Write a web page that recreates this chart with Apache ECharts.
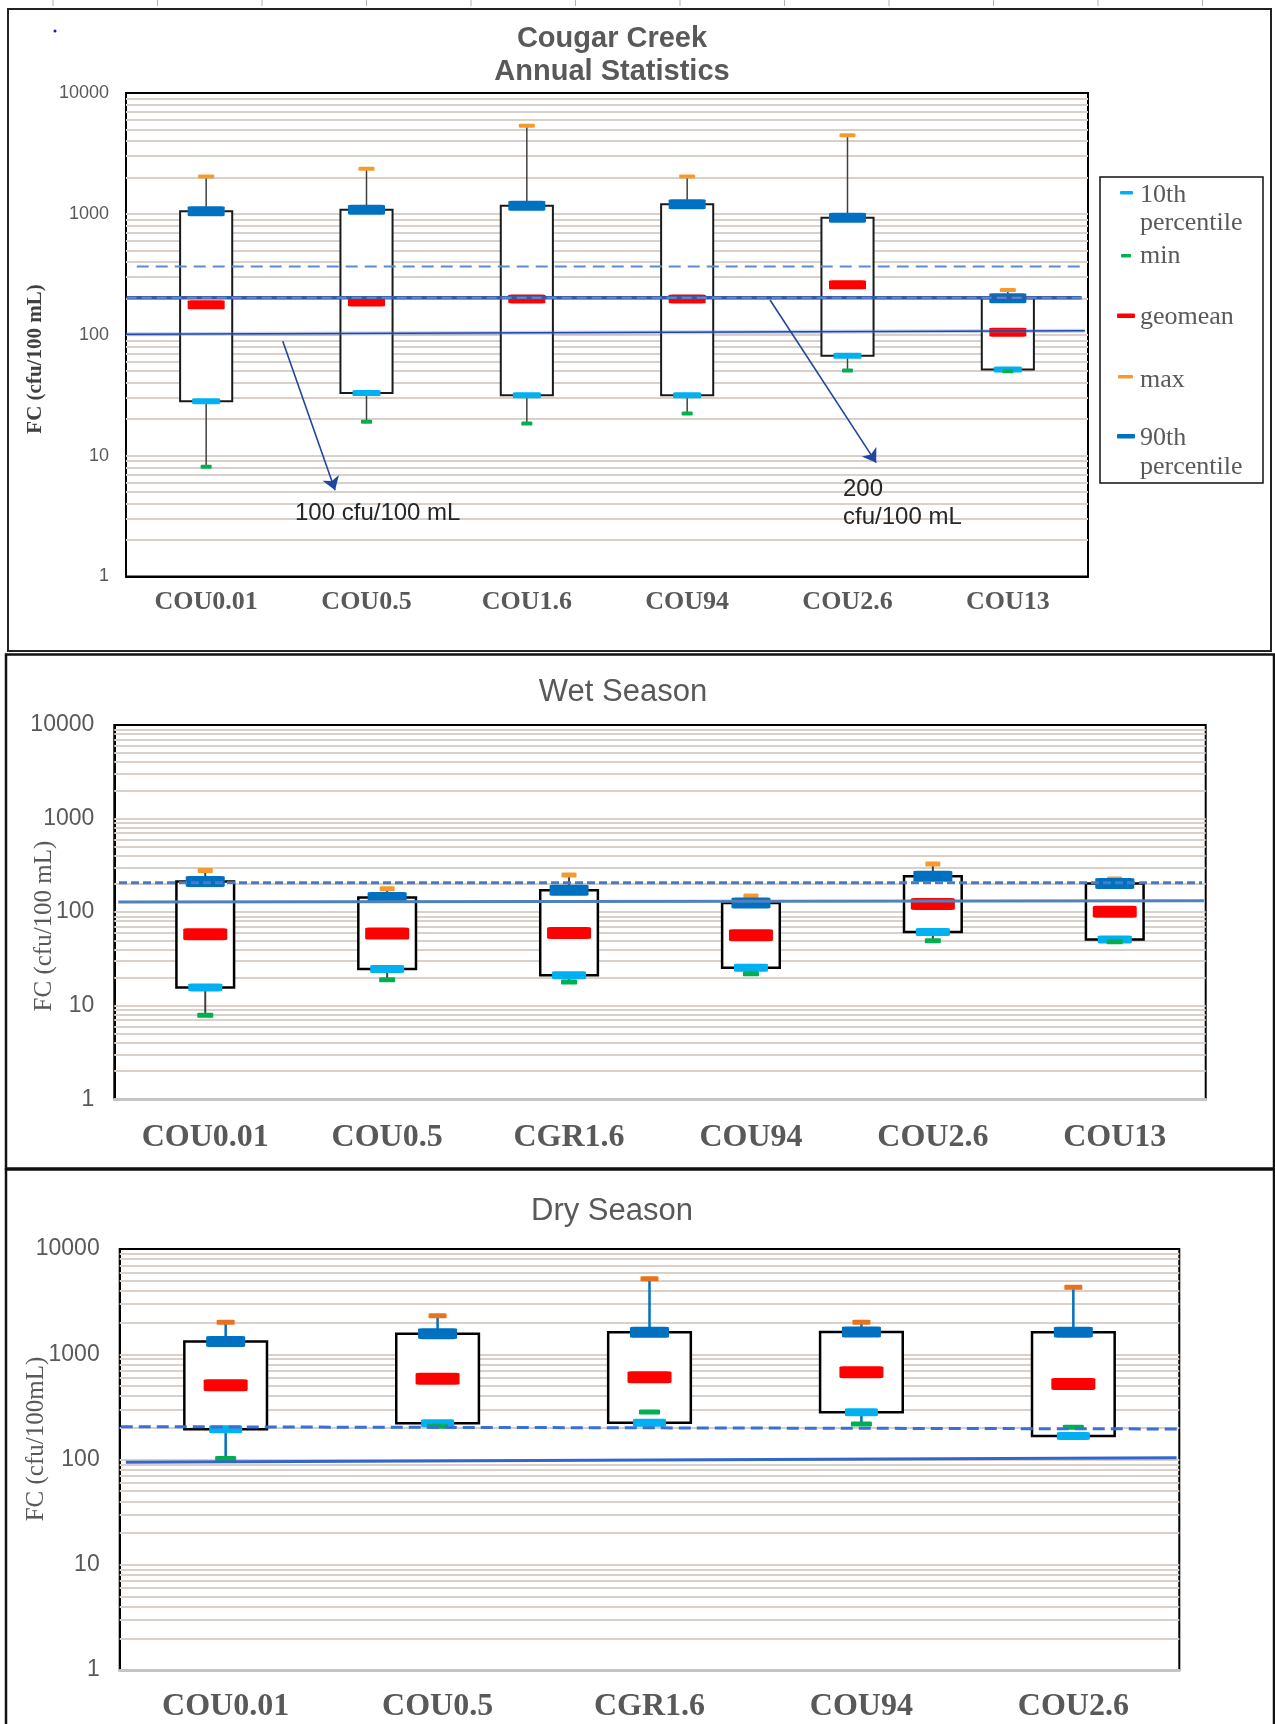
<!DOCTYPE html>
<html><head><meta charset="utf-8">
<script src="https://cdn.jsdelivr.net/npm/echarts@6/dist/echarts.min.js"></script>
<style>html,body{margin:0;padding:0;background:#fff}#c{width:1275px;height:1724px}</style>
</head><body><div id="c"></div>
<script>
// ---------- DATA ----------
const annualCategories = ['COU0.01', 'COU0.5', 'COU1.6', 'COU94', 'COU2.6', 'COU13'];
const annualMax     = [2040, 2360, 5370, 2040, 4470, 234];
const annualP90     = [1050, 1080, 1170, 1200, 930, 200];
const annualGeomean = [177, 187, 198, 198, 259, 105];
const annualP10     = [28.2, 32.9, 31.6, 31.6, 67, 51.6];
const annualMin     = [8.1, 19.1, 18.4, 22.3, 50.6, 50];
const annualLimit100 = [101, 108];
const annualLimit200 = [202, 202];
const annualUpperDashed = [367, 367];

const wetCategories = ['COU0.01', 'COU0.5', 'CGR1.6', 'COU94', 'COU2.6', 'COU13'];
const wetMax     = [278, 178, 250, 149, 327, 226];
const wetP90     = [212, 143, 171, 125, 242, 202];
const wetGeomean = [58, 59, 60, 56.6, 122, 101];
const wetP10     = [15.7, 24.7, 21.2, 25.5, 61.4, 51];
const wetMin     = [7.9, 18.9, 17.9, 21.9, 49.6, 48.4];
const wetSolid  = [128, 132];
const wetDashed = [206, 206];

const dryCategories = ['COU0.01', 'COU0.5', 'CGR1.6', 'COU94', 'COU2.6'];
const dryMax     = [2010, 2326, 5220, 2010, 4325];
const dryP90     = [1320, 1570, 1616, 1627, 1620];
const dryGeomean = [507, 586, 604, 674, 522];
const dryP10     = [194, 221, 224, 281, 167];
const dryMin     = [102, 207, 283, 217, 202];
const drySolid  = [94, 104];
const dryDashed = [205, 195];

const yTickLabels = ['1', '10', '100', '1000', '10000'];

// ---------- STYLE / LAYOUT ----------
const SANS = 'Liberation Sans', SERIF = 'Liberation Serif', GREY = '#595959';
const C = {p90: '#0070C0', geo: '#FF0000', p10: '#00B0F0', min: '#00B050'};

const panels = [
  {cats: annualCategories, mn: annualMin, p10: annualP10, geo: annualGeomean, p90: annualP90, mx: annualMax,
   grid: {left: 126, top: 93, width: 962, height: 483.5},
   boxRatio: 0.325, boxColor: '#1a1a1a', boxWidth: 2, whiskerColor: '#404040', whiskerWidth: 1.5,
   maxColor: '#F79A2E',
   sz: {p90: [37, 10], geo: [37, 9], p10: [28, 6], min: [11, 4], max: [16, 4]},
   xFont: 26, xMargin: 12.5, yFont: 18, yMargin: 17, bottomColor: '#000', gridColor: '#D8D0C9'},
  {cats: wetCategories, mn: wetMin, p10: wetP10, geo: wetGeomean, p90: wetP90, mx: wetMax,
   grid: {left: 114.3, top: 725, width: 1091.4, height: 374.3},
   boxRatio: 0.317, boxColor: '#000', boxWidth: 2.5, whiskerColor: '#404040', whiskerWidth: 2,
   maxColor: '#F79A2E',
   sz: {p90: [39, 11], geo: [44, 12], p10: [34, 8], min: [16, 5], max: [15, 5]},
   xFont: 32, xMargin: 22, yFont: 23, yMargin: 20, bottomColor: '#C4C4C4', gridColor: '#D8D0C9'},
  {cats: dryCategories, mn: dryMin, p10: dryP10, geo: dryGeomean, p90: dryP90, mx: dryMax,
   grid: {left: 119.7, top: 1249, width: 1059.6, height: 421},
   boxRatio: 0.39, boxColor: '#000', boxWidth: 2.5, whiskerColor: '#0070C0', whiskerWidth: 2.5,
   maxColor: '#E8721E',
   sz: {p90: [39, 11], geo: [44, 12], p10: [33, 8], min: [21, 5], max: [18, 5]},
   xFont: 32, xMargin: 21, yFont: 23, yMargin: 20, bottomColor: '#C4C4C4', gridColor: '#D8D0C9'}
];

// minor + major log gridline positions (axis decoration)
const gridValues = [];
[1, 10, 100, 1000].forEach(d => { for (let k = 1; k <= 9; k++) { if (d * k > 1) gridValues.push(d * k); } });

const grids = [], xAxes = [], yAxes = [], series = [];

panels.forEach((p, g) => {
  grids.push(Object.assign({show: true, borderColor: '#000', borderWidth: 2, backgroundColor: 'transparent',
    containLabel: false, outerBoundsMode: 'none'}, p.grid));
  xAxes[g] = {
    type: 'category', gridIndex: g, data: p.cats, z: 1,
    axisLine: {show: true, lineStyle: {color: p.bottomColor, width: g === 0 ? 2 : 3}},
    axisTick: {show: false}, splitLine: {show: false},
    axisLabel: {color: GREY, fontFamily: SERIF, fontWeight: 'bold', fontSize: p.xFont, lineHeight: p.xFont,
      margin: p.xMargin, interval: 0}
  };
  xAxes[3 + g] = {type: 'value', gridIndex: g, min: 0, max: p.cats.length, show: false};
  yAxes[g] = {
    type: 'log', logBase: 10, gridIndex: g, min: 1, max: 10000,
    axisLine: {show: true, lineStyle: {color: '#000', width: 2}},
    axisTick: {show: false}, splitLine: {show: false},
    axisLabel: {color: GREY, fontFamily: SANS, fontSize: p.yFont, margin: p.yMargin,
      formatter: v => yTickLabels[Math.round(Math.log10(v))]}
  };

  const st = p;
  series.push({
    type: 'custom', xAxisIndex: g, yAxisIndex: g, z: 2, silent: true, animation: false,
    data: p.cats.map((c, i) => [i, p.mn[i], p.p10[i], p.p90[i], p.mx[i]]),
    encode: {x: 0, y: [1, 2, 3, 4]},
    renderItem: function (params, api) {
      const i = api.value(0);
      const mn = api.value(1), q10 = api.value(2), q90 = api.value(3), mx = api.value(4);
      const bw = api.size([1, 0], [i, 10])[0] * st.boxRatio;
      const top = api.coord([i, q90]);
      const bot = api.coord([i, q10]);
      const cx = top[0];
      const ch = [{
        type: 'rect',
        shape: {x: cx - bw / 2, y: top[1], width: bw, height: bot[1] - top[1]},
        style: {fill: '#fff', stroke: st.boxColor, lineWidth: st.boxWidth}
      }];
      if (mx > q90) {
        const m = api.coord([i, mx]);
        ch.push({type: 'line', shape: {x1: cx, y1: top[1], x2: cx, y2: m[1]},
          style: {stroke: st.whiskerColor, lineWidth: st.whiskerWidth}});
      }
      if (mn < q10) {
        const m = api.coord([i, mn]);
        ch.push({type: 'line', shape: {x1: cx, y1: bot[1], x2: cx, y2: m[1]},
          style: {stroke: st.whiskerColor, lineWidth: st.whiskerWidth}});
      }
      return {type: 'group', children: ch};
    },
    markLine: {
      z: 1, silent: true, symbol: 'none', animation: false, label: {show: false},
      lineStyle: {color: p.gridColor, width: 2, type: 'solid'},
      data: gridValues.map(v => ({yAxis: v}))
    }
  });

  const marker = (name, vals, color, size) => ({
    type: 'scatter', name, xAxisIndex: g, yAxisIndex: g, z: 3, silent: true, animation: false,
    symbol: 'path://M1,0 L9,0 Q10,0 10,1 L10,9 Q10,10 9,10 L1,10 Q0,10 0,9 L0,1 Q0,0 1,0 Z',
    symbolKeepAspect: false,
    symbolSize: size, itemStyle: {color: color, opacity: 1}, data: vals
  });
  series.push(marker('max', p.mx, p.maxColor, p.sz.max));
  series.push(marker('90th percentile', p.p90, C.p90, p.sz.p90));
  series.push(marker('10th percentile', p.p10, C.p10, p.sz.p10));
  series.push(marker('min', p.mn, C.min, p.sz.min));
  series.push(marker('geomean', p.geo, C.geo, p.sz.geo));
});

const refLine = (g, x0, x1, vals, style, extra) => Object.assign({
  type: 'line', xAxisIndex: 3 + g, yAxisIndex: g, z: 4, silent: true, animation: false,
  symbol: 'none', data: [[x0, vals[0]], [x1, vals[1]]], lineStyle: style
}, extra || {});

// Annual panel reference lines
series.push(refLine(0, 0.067, 5.95, annualUpperDashed, {color: '#5B8BD0', width: 2.2, type: [12, 7]}));
series.push(refLine(0, 0.004, 5.96, annualLimit200, {color: '#3558A8', width: 3.5, type: 'solid'}));
series.push(refLine(0, 0.004, 5.96, annualLimit200, {color: '#5E8AD0', width: 2, type: [10, 5]}));
series.push(refLine(0, 0.0, 5.98, annualLimit100, {color: 'rgba(90,130,210,0.35)', width: 4, type: 'solid'}));
series.push(refLine(0, 0.0, 5.98, annualLimit100, {color: '#2444A6', width: 1.6, type: 'solid'}, {
  markLine: {
    silent: true, animation: false, symbol: ['none', 'arrow'], symbolSize: 13, label: {show: false},
    lineStyle: {color: '#2046A0', width: 1.6, type: 'solid'},
    data: [
      [{coord: [0.978, 88.5]}, {coord: [1.304, 5.17]}],
      [{coord: [4.017, 194]}, {coord: [4.679, 8.75]}]
    ]
  }
}));
// Wet panel
series.push(refLine(1, 0.026, 5.98, wetDashed, {color: '#4A7CC0', width: 3, type: [8, 4]}));
series.push(refLine(1, 0.022, 5.99, wetSolid, {color: '#4F81BD', width: 3, type: 'solid'}));
// Dry panel
series.push(refLine(2, 0.005, 4.99, dryDashed, {color: '#3A6FD8', width: 3, type: [12, 6]}));
series.push(refLine(2, 0.029, 4.987, drySolid, {color: '#3366CC', width: 3, type: 'solid'}));

// ---------- GRAPHIC DECORATIONS ----------
const graphic = [];
for (let k = 0; k < 12; k++) {
  graphic.push({type: 'line', silent: true, shape: {x1: 53 + 104.5 * k, y1: 0, x2: 53 + 104.5 * k, y2: 6},
    style: {stroke: '#B0B0B0', lineWidth: 1}});
}
graphic.push({type: 'rect', silent: true, z: 100, shape: {x: 8, y: 9, width: 1263, height: 642},
  style: {fill: 'none', stroke: '#222', lineWidth: 2}});
graphic.push({type: 'rect', silent: true, z: 100, shape: {x: 6, y: 654.5, width: 1268, height: 514},
  style: {fill: 'none', stroke: '#111', lineWidth: 2.5}});
graphic.push({type: 'rect', silent: true, z: 100, shape: {x: 6, y: 1169.5, width: 1268, height: 570},
  style: {fill: 'none', stroke: '#111', lineWidth: 2.5}});
graphic.push({type: 'circle', silent: true, shape: {cx: 55, cy: 31, r: 1.5}, style: {fill: '#1010FF'}});

// y-axis names
const yName = (text, x, y, size, weight, color) => ({
  type: 'text', silent: true, z: 50, x, y, rotation: Math.PI / 2,
  style: {text, fill: color, fontFamily: SERIF, fontSize: size, fontWeight: weight, align: 'center', verticalAlign: 'middle'}
});
graphic.push(yName('FC (cfu/100 mL)', 36, 359, 21, 'bold', '#404040'));
graphic.push(yName('FC (cfu/100 mL)', 44, 926, 25, 'normal', GREY));
graphic.push(yName('FC (cfu/100mL)', 36, 1439, 25, 'normal', GREY));

// annotations (annual panel)
const note = (text, x, y) => ({type: 'text', silent: true, z: 50, x, y,
  style: {text, fill: '#262626', fontFamily: SANS, fontSize: 24, align: 'left', verticalAlign: 'middle'}});
graphic.push(note('100 cfu/100 mL', 295, 513));
graphic.push(note('200', 843, 489));
graphic.push(note('cfu/100 mL', 843, 517));

// legend (annual panel)
graphic.push({type: 'rect', silent: true, z: 40, shape: {x: 1100, y: 177, width: 163, height: 306},
  style: {fill: '#fff', stroke: '#111', lineWidth: 1.5}});
const legIcon = (x, y, w, h, color) => ({type: 'rect', silent: true, z: 50, shape: {x, y, width: w, height: h, r: 1}, style: {fill: color}});
const legText = (text, y) => ({type: 'text', silent: true, z: 50, x: 1140, y,
  style: {text, fill: GREY, fontFamily: SERIF, fontSize: 26, align: 'left', verticalAlign: 'middle'}});
graphic.push(legIcon(1120, 191, 13, 3.5, C.p10), legText('10th', 195), legText('percentile', 223));
graphic.push(legIcon(1121, 254, 10, 3.5, C.min), legText('min', 256));
graphic.push(legIcon(1117, 313.5, 18, 4.5, C.geo), legText('geomean', 317));
graphic.push(legIcon(1118, 375, 15, 3.5, '#F79A2E'), legText('max', 380));
graphic.push(legIcon(1117, 434, 18, 4.5, C.p90), legText('90th', 438), legText('percentile', 467));

const option = {
  animation: false,
  backgroundColor: '#fff',
  title: [
    {text: 'Cougar Creek\nAnnual Statistics', left: 612, top: 22, textAlign: 'center', padding: 0,
      textStyle: {fontFamily: SANS, fontWeight: 'bold', fontSize: 29, lineHeight: 33, color: GREY}},
    {text: 'Wet Season', left: 623, top: 677, textAlign: 'center', padding: 0,
      textStyle: {fontFamily: SANS, fontWeight: 'normal', fontSize: 31, color: GREY}},
    {text: 'Dry Season', left: 612, top: 1196, textAlign: 'center', padding: 0,
      textStyle: {fontFamily: SANS, fontWeight: 'normal', fontSize: 31, color: GREY}}
  ],
  grid: grids,
  xAxis: xAxes,
  yAxis: yAxes,
  series: series,
  graphic: graphic
};

const chart = echarts.init(document.getElementById('c'), null, {renderer: 'canvas'});
chart.setOption(option);
</script></body></html>
